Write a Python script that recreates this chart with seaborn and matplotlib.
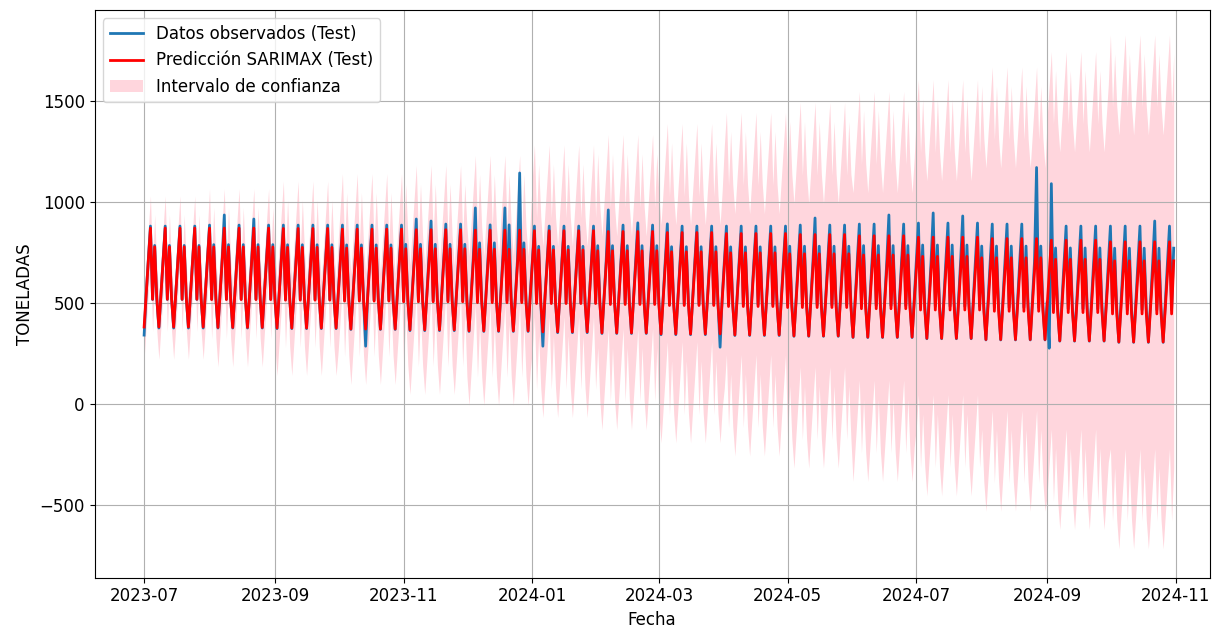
import matplotlib
matplotlib.use("Agg")
import matplotlib.pyplot as plt
import numpy as np
import pandas as pd
import seaborn as sns

# --------------------------------------------------------------------------- #
# Values (daily test period, weekly seasonality)
start_date = "2023-07-01"
end_date = "2024-10-31"

months = ["2023-07", "2023-08", "2023-09", "2023-10", "2023-11", "2023-12",
          "2024-01", "2024-02", "2024-03", "2024-04", "2024-05", "2024-06",
          "2024-07", "2024-08", "2024-09", "2024-10"]

# prediction: weekly peak (Tuesday) and trough (Saturday) per month
pred_high = [870, 870, 868, 865, 862, 860, 857, 853, 848, 843, 838, 832, 825, 818, 810, 802]
pred_low = [380, 378, 375, 370, 366, 361, 356, 351, 346, 341, 336, 330, 324, 318, 312, 306]

# observed: weekly peak and trough per month
obs_high = [880, 885, 885, 885, 890, 900, 880, 885, 880, 880, 885, 890, 895, 890, 880, 880]
obs_low = [375, 375, 372, 368, 362, 358, 352, 348, 342, 338, 334, 328, 322, 316, 310, 304]

# weekly profile, Mon..Sun, as share of the trough-to-peak range
week_shape = [0.67, 1.00, 0.28, 0.81, 0.29, 0.00, 0.34]

# half width of the confidence interval per month
ci_half = [160, 195, 235, 275, 320, 370, 425, 480, 540, 600, 655, 715, 780, 850, 935, 1025]

# observed days that stand out from the pattern
obs_dates = ["2023-07-01", "2023-08-08", "2023-08-22", "2023-10-14", "2023-11-07",
             "2023-11-14", "2023-12-05", "2023-12-12", "2023-12-19", "2023-12-21",
             "2023-12-26", "2024-01-06", "2024-02-06", "2024-02-20", "2024-03-05",
             "2024-03-30", "2024-05-14", "2024-06-18", "2024-07-09", "2024-07-23",
             "2024-08-27", "2024-09-02", "2024-09-03", "2024-10-22"]
obs_values = [340, 935, 915, 285, 915,
              905, 970, 886, 970, 886,
              1143, 285, 960, 896, 891,
              280, 920, 935, 945, 930,
              1170, 275, 1090, 905]

# --------------------------------------------------------------------------- #
dates = pd.date_range(start_date, end_date, freq="D")
m_idx = np.array([months.index(d.strftime("%Y-%m")) for d in dates])
shape = np.array(week_shape)[dates.dayofweek]

p_hi, p_lo = np.array(pred_high)[m_idx], np.array(pred_low)[m_idx]
o_hi, o_lo = np.array(obs_high)[m_idx], np.array(obs_low)[m_idx]
pred = p_lo + shape * (p_hi - p_lo)
obs = pd.Series(o_lo + shape * (o_hi - o_lo), index=dates)
obs[pd.to_datetime(obs_dates)] = obs_values
half = np.array(ci_half)[m_idx]

df = pd.DataFrame({"Fecha": dates, "obs": obs.values, "pred": pred,
                   "lower": pred - half, "upper": pred + half})

plt.rcParams["font.size"] = 12

fig, ax = plt.subplots(figsize=(12.12, 6.28), dpi=100)
fig.subplots_adjust(left=0.078, right=0.998, bottom=0.08, top=0.984)

sns.lineplot(data=df, x="Fecha", y="obs", ax=ax, color="#1f77b4",
             linewidth=2, label="Datos observados (Test)")
sns.lineplot(data=df, x="Fecha", y="pred", ax=ax, color="red",
             linewidth=2, label="Predicción SARIMAX (Test)")
ax.fill_between(df["Fecha"], df["lower"], df["upper"], color="pink",
                alpha=0.65, linewidth=0, label="Intervalo de confianza")

ax.set_xlim(pd.Timestamp("2023-06-07 12:00"), pd.Timestamp("2024-11-17"))
ax.set_ylim(-862, 1950)
ax.set_xlabel("Fecha")
ax.set_ylabel("TONELADAS")
ax.grid(True)
ax.legend(loc="upper left")

fig.savefig("out.png")
